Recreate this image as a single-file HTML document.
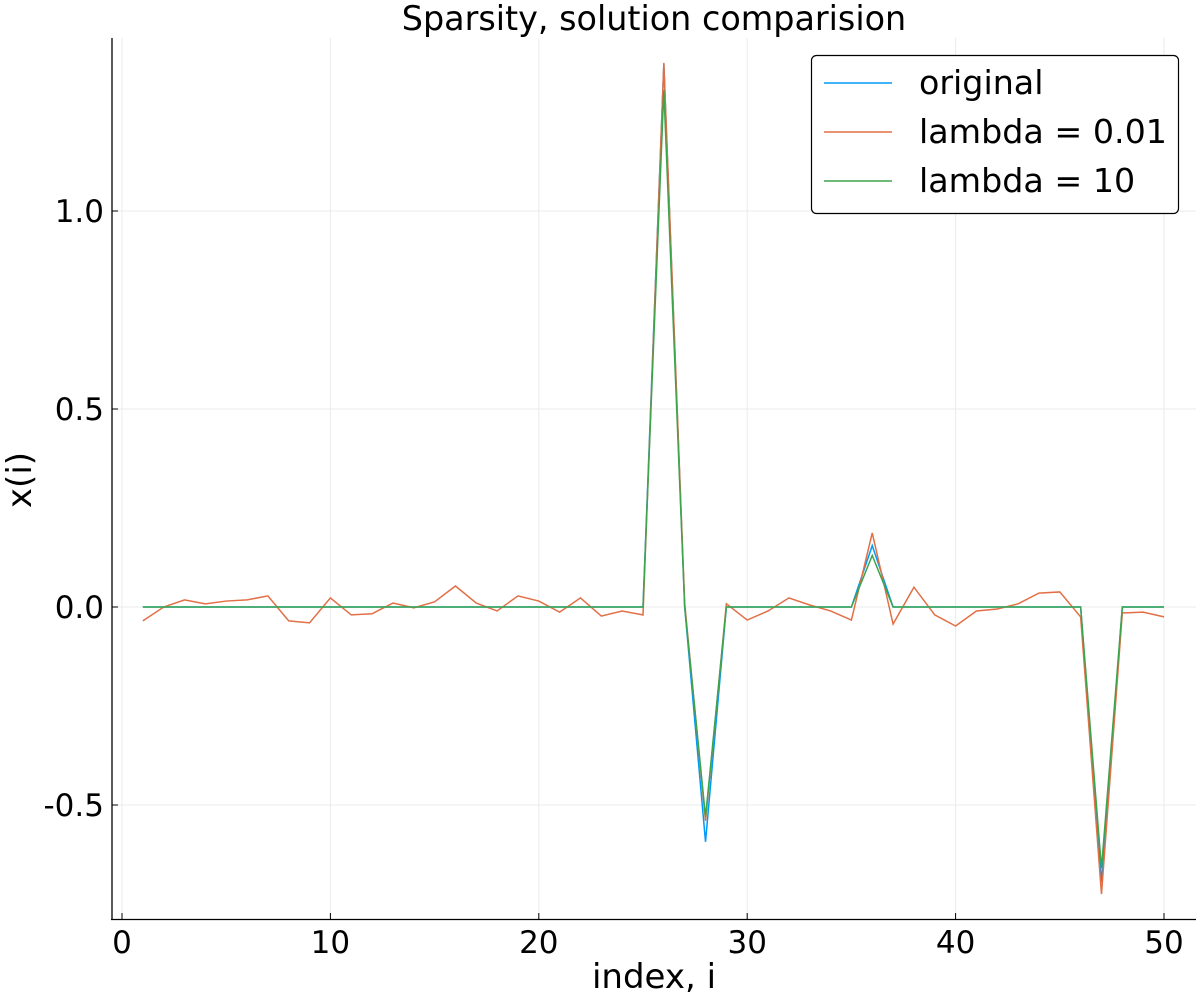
<!DOCTYPE html>
<html><head><meta charset="utf-8"><style>
body{margin:0;background:#fff;font-family:"DejaVu Sans",sans-serif}
</style></head><body>
<svg id="chart" width="1200" height="1000" xmlns="http://www.w3.org/2000/svg" font-family="DejaVu Sans, sans-serif"></svg>
<script>
const indices=[1,2,3,4,5,6,7,8,9,10,11,12,13,14,15,16,17,18,19,20,21,22,23,24,25,26,27,28,29,30,31,32,33,34,35,36,37,38,39,40,41,42,43,44,45,46,47,48,49,50];
const lambda001=[-0.035,0,0.018,0.008,0.015,0.018,0.028,-0.035,-0.04,0.023,-0.02,-0.017,0.01,-0.002,0.013,0.053,0.01,-0.01,0.028,0.015,-0.013,0.023,-0.023,-0.01,-0.02,1.374,0.01,-0.54,0.008,-0.033,-0.01,0.023,0.005,-0.01,-0.033,0.187,-0.043,0.05,-0.02,-0.048,-0.01,-0.005,0.008,0.035,0.038,-0.025,-0.725,-0.015,-0.013,-0.025];
const originalVals=indices.map(i=>({26:1.37,28:-0.593,36:0.155,47:-0.695})[i]||0);
const lambda10=indices.map(i=>({26:1.305,28:-0.53,36:0.13,47:-0.66})[i]||0);
const xTicks=[0,10,20,30,40,50];
const yTicks=[-0.5,0,0.5,1.0];
const yTickLabels=["-0.5","0.0","0.5","1.0"];
const svg=document.getElementById('chart');
const NS='http://www.w3.org/2000/svg';
const X=v=>122+(v)*20.84;
const Y=v=>607-v*396;
function mk(t,a,txt){const e=document.createElementNS(NS,t);for(const k in a)e.setAttribute(k,a[k]);if(txt!==undefined)e.textContent=txt;svg.appendChild(e);return e;}
xTicks.forEach(t=>{const g=mk('line',{x1:X(t),x2:X(t),y1:38,y2:919,stroke:'#ebebeb','stroke-width':1});

});
yTicks.forEach(t=>{const g=mk('line',{x1:112,x2:1196,y1:Y(t),y2:Y(t),stroke:'#ebebeb','stroke-width':1});

});
let ax=mk('line',{x1:112,x2:112,y1:38,y2:920,stroke:'#000','stroke-width':1.3});


ax=mk('line',{x1:111,x2:1196,y1:919.5,y2:919.5,stroke:'#000','stroke-width':1.3});


xTicks.forEach(t=>{mk('line',{x1:X(t),x2:X(t),y1:919,y2:913,stroke:'#000'});
const l=mk('text',{x:X(t),y:953,'font-size':31,'text-anchor':'middle'},String(t));

});
yTicks.forEach((t,i)=>{mk('line',{x1:112,x2:118,y1:Y(t),y2:Y(t),stroke:'#000'});
const l=mk('text',{x:104,y:Y(t)+11,'font-size':31,'text-anchor':'end'},yTickLabels[i]);

});
let t=mk('text',{x:654,y:30,'font-size':33.4,'text-anchor':'middle'},'Sparsity, solution comparision');


t=mk('text',{x:654,y:988,'font-size':34,'text-anchor':'middle'},'index, i');


t=mk('text',{x:31,y:480,'font-size':34,'text-anchor':'middle',transform:'rotate(-90 31 480)'},'x(i)');


function series(vals,color,name){const p=mk('polyline',{points:indices.map((d,i)=>X(d)+','+Y(vals[i])).join(' '),fill:'none',stroke:color,'stroke-width':1.5});

}
series(originalVals,'#009af9','series-original');
series(lambda001,'#e26f46','series-lambda-0-01');
series(lambda10,'#3da44d','series-lambda-10');
const lg=mk('rect',{x:811.5,y:55.5,width:367,height:158,rx:5,fill:'#fff',stroke:'#000','stroke-width':1.2});


[['original','#009af9',83],['lambda = 0.01','#e26f46',132],['lambda = 10','#3da44d',181]].forEach(([n,c,y])=>{
mk('line',{x1:824,x2:892,y1:y,y2:y,stroke:c,'stroke-width':1.5});
const e=mk('text',{x:919,y:y+11,'font-size':33.3},n);

});
</script>
</body></html>
